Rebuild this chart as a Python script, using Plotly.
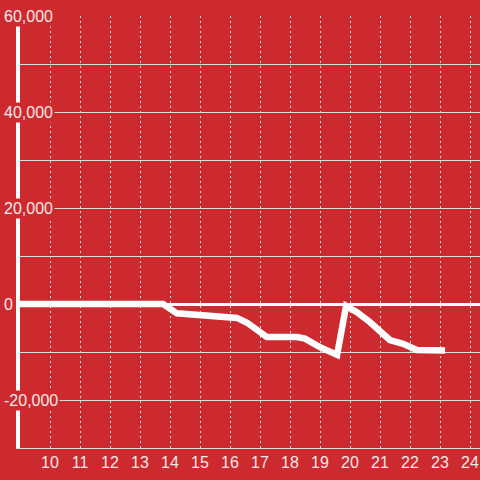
import plotly.graph_objects as go

# Data
hours = [9, 13.77, 14.23, 15.1, 16.23, 16.57, 17.23, 18.23, 18.5, 19.0, 19.57, 19.87,
         20.23, 20.67, 21.33, 21.77, 22.23, 23.17]
values = [0, 0, -1950, -2300, -2900, -3900, -6900, -6900, -7200, -9000, -10600, -400,
          -1700, -3800, -7500, -8300, -9600, -9700]

x_ticks = list(range(10, 25))
x_tick_labels = [str(t) for t in x_ticks]
y_ticks = [60000, 40000, 20000, 0, -20000]
y_tick_labels = ["60,000", "40,000", "20,000", "0", "-20,000"]

BG = "#cc2a2f"
GRID = "#dddddd"
TEXT = "#f2e8e8"
FONT = "Liberation Sans, Arial, sans-serif"

fig = go.Figure()
fig.add_trace(go.Scatter(
    x=hours, y=values, mode="lines",
    line=dict(color="white", width=6.5),
    hoverinfo="skip", showlegend=False,
))

annotations = []
for v, lab in zip(y_ticks, y_tick_labels):
    annotations.append(dict(
        xref="paper", yref="y", x=0, y=v, xanchor="left", yanchor="middle",
        xshift=-18, text=lab, showarrow=False,
        font=dict(family=FONT, size=16, color=TEXT),
        bgcolor=BG, borderpad=1,
    ))

fig.update_layout(
    width=480, height=480,
    margin=dict(l=20, r=0, t=16, b=32, autoexpand=False),
    paper_bgcolor=BG, plot_bgcolor=BG,
    font=dict(family=FONT, size=16, color=TEXT),
    annotations=annotations,
    xaxis=dict(
        range=[9, 24.333], tickvals=x_ticks, ticktext=x_tick_labels,
        showgrid=True, gridcolor=GRID, gridwidth=1, griddash="2px,3px",
        zeroline=False, showline=True, linecolor=GRID, linewidth=1,
        ticks="", tickfont=dict(family=FONT, size=16, color=TEXT),
        fixedrange=True, automargin=False,
    ),
    yaxis=dict(
        range=[-30000, 60000], dtick=10000, tick0=0,
        showgrid=True, gridcolor=GRID, gridwidth=1,
        zeroline=True, zerolinecolor="white", zerolinewidth=3,
        showline=True, linecolor="white", linewidth=4,
        showticklabels=False, ticks="", fixedrange=True, automargin=False,
    ),
)

fig.write_html("out.html", config={"displayModeBar": False},
               post_script="document.body.style.margin='0';document.body.style.background='%s';" % BG)
